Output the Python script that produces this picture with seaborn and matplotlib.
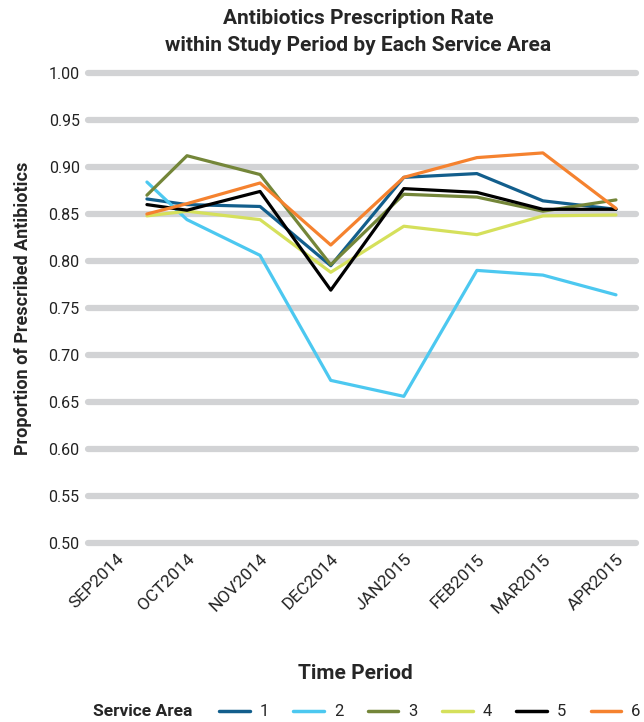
import numpy as np
import pandas as pd
import matplotlib
matplotlib.use("Agg")
import matplotlib.pyplot as plt
import matplotlib.dates as mdates
from matplotlib.ticker import FuncFormatter, MultipleLocator
from matplotlib.lines import Line2D
import seaborn as sns

# ---- data ----
dates = ["2014-09-14", "2014-10-01", "2014-11-01", "2014-12-01",
         "2015-01-01", "2015-02-01", "2015-03-01", "2015-04-01"]
area1 = [0.866, 0.860, 0.858, 0.795, 0.889, 0.893, 0.864, 0.855]
area2 = [0.884, 0.844, 0.806, 0.673, 0.656, 0.790, 0.785, 0.764]
area3 = [0.870, 0.912, 0.892, 0.796, 0.871, 0.868, 0.853, 0.865]
area4 = [0.848, 0.853, 0.844, 0.788, 0.837, 0.828, 0.848, 0.849]
area5 = [0.860, 0.854, 0.874, 0.769, 0.877, 0.873, 0.855, 0.855]
area6 = [0.850, 0.861, 0.883, 0.817, 0.889, 0.910, 0.915, 0.856]
areas = ["1", "2", "3", "4", "5", "6"]
colors = ["#125e8c", "#4cc8f0", "#748639", "#d5e05b", "#000000", "#f5822f"]

series = [area1, area2, area3, area4, area5, area6]
df = pd.DataFrame({
    "date": pd.to_datetime(dates * len(areas)),
    "value": sum(series, []),
    "area": sum([[a] * len(dates) for a in areas], []),
})

sns.set_theme(style="white")
plt.rcParams["font.family"] = ["Roboto", "DejaVu Sans"]

fig = plt.figure(figsize=(6.44, 7.22), dpi=100)
ax = fig.add_axes([88 / 644, 1 - 543 / 722, (636 - 88) / 644, (543 - 73) / 722])

sns.lineplot(data=df, x="date", y="value", hue="area", palette=colors,
             linewidth=2.3, ax=ax, legend=False, zorder=3)

ax.set_xlim(pd.Timestamp("2014-08-20"), pd.Timestamp("2015-04-09 12:00"))
ax.set_ylim(0.5, 1.0)
ax.yaxis.set_major_locator(MultipleLocator(0.05))
ax.yaxis.set_major_formatter(FuncFormatter(lambda v, p: f"{v:.2f}"))
ax.xaxis.set_major_locator(mdates.MonthLocator())
ax.xaxis.set_major_formatter(FuncFormatter(lambda v, p: mdates.num2date(v).strftime("%b%Y").upper()))

ax.grid(axis="y", color="#d2d3d5", linewidth=4.5, zorder=0)
ax.grid(axis="x", visible=False)
for gl in ax.get_ygridlines():
    gl.set_clip_on(False)
for s in ax.spines.values():
    s.set_visible(False)

ax.tick_params(axis="y", length=0, pad=6, labelsize=11.5, labelcolor="#222222")
ax.tick_params(axis="x", length=0, pad=6, labelsize=12.5, labelcolor="#222222")
for lab in ax.get_xticklabels():
    lab.set_rotation(45)
    lab.set_ha("right")
    lab.set_va("top")
    lab.set_rotation_mode("anchor")

ax.set_xlabel("Time Period", fontsize=15, fontweight="bold")
ax.set_ylabel("Proportion of Prescribed Antibiotics", fontsize=13, fontweight="bold", labelpad=12)
ax.xaxis.set_label_coords((355 - 88) / 548, -(664 - 543) / 470)

fig.text(358 / 644, 1 - 32 / 722, "Antibiotics Prescription Rate\nwithin Study Period by Each Service Area",
         ha="center", va="center", fontsize=15, fontweight="bold", linespacing=1.5)

handles = [Line2D([0], [0], color=c, linewidth=2.5) for c in colors]
fig.text(93 / 644, 1 - 712 / 722, "Service Area", ha="left", va="center", fontsize=12.5, fontweight="bold")
fig.legend(handles, areas, ncol=6, loc="center left", bbox_to_anchor=(219 / 644, 1 - 712 / 722),
           frameon=False, fontsize=12, handlelength=1.85, handletextpad=0.6, columnspacing=1.45,
           borderaxespad=0, borderpad=0)

fig.savefig("out.png", dpi=100)
